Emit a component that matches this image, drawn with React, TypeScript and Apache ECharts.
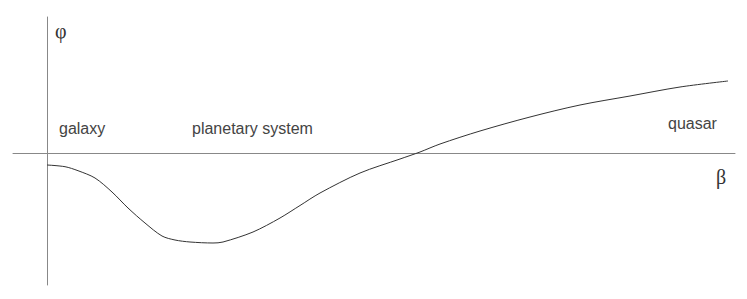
import React, { useEffect, useRef } from "react";
import * as echarts from "echarts";

// curve: beta (x) vs phi (y), in arbitrary units
const betaValues = [0, 0.18, 0.31, 0.48, 0.65, 0.81, 0.98, 1.15, 1.28, 1.43, 1.66, 1.76, 2.06, 2.33, 2.53, 2.73, 3.13, 3.53, 3.73, 3.93, 4.33, 4.83, 5.33, 5.83, 6.33, 6.81];
const phiValues = [-0.12, -0.137, -0.177, -0.25, -0.39, -0.55, -0.7, -0.83, -0.87, -0.89, -0.9, -0.89, -0.79, -0.65, -0.525, -0.4, -0.2, -0.06, 0.01, 0.09, 0.22, 0.36, 0.48, 0.57, 0.66, 0.72];

const annotations = ["galaxy", "planetary system", "quasar"];
const axisSymbols = ["φ", "β"];

export default function App() {
  const ref = useRef<HTMLDivElement>(null);
  useEffect(() => {
    const chart = echarts.init(ref.current!, null, { renderer: "svg" });
    chart.setOption({
      animation: false,
      grid: { left: 13, right: 12, top: 17, bottom: 14 },
      xAxis: {
        type: "value",
        min: -0.34,
        max: 6.88,
        axisLine: { show: true, onZero: true, lineStyle: { color: "#888", width: 1 } },
        axisTick: { show: false },
        axisLabel: { show: false },
        splitLine: { show: false },
      },
      yAxis: {
        type: "value",
        min: -1.32,
        max: 1.36,
        axisLine: { show: true, onZero: true, lineStyle: { color: "#888", width: 1 } },
        axisTick: { show: false },
        axisLabel: { show: false },
        splitLine: { show: false },
      },
      series: [
        {
          type: "line",
          data: betaValues.map((b, i) => [b, phiValues[i]]),
          smooth: 0.3,
          symbol: "none",
          lineStyle: { color: "#333", width: 1 },
        },
      ],
      graphic: [
        { type: "text", x: 55, y: 31, style: { text: axisSymbols[0], font: '20px "Liberation Serif", serif', fill: "#333", textVerticalAlign: "middle" } },
        { type: "text", x: 716, y: 177, style: { text: axisSymbols[1], font: '20px "Liberation Serif", serif', fill: "#333", textVerticalAlign: "middle" } },
        { type: "text", x: 59, y: 128, style: { text: annotations[0], font: '16px "Liberation Sans", Arial, sans-serif', fill: "#444", textVerticalAlign: "middle" } },
        { type: "text", x: 192, y: 128, style: { text: annotations[1], font: '16px "Liberation Sans", Arial, sans-serif', fill: "#444", textVerticalAlign: "middle" } },
        { type: "text", x: 668, y: 123, style: { text: annotations[2], font: '16px "Liberation Sans", Arial, sans-serif', fill: "#444", textVerticalAlign: "middle" } },
      ],
    });
    return () => chart.dispose();
  }, []);
  return <div ref={ref} style={{ width: 747, height: 299, position: "absolute", left: 0, top: 0 }} />;
}
